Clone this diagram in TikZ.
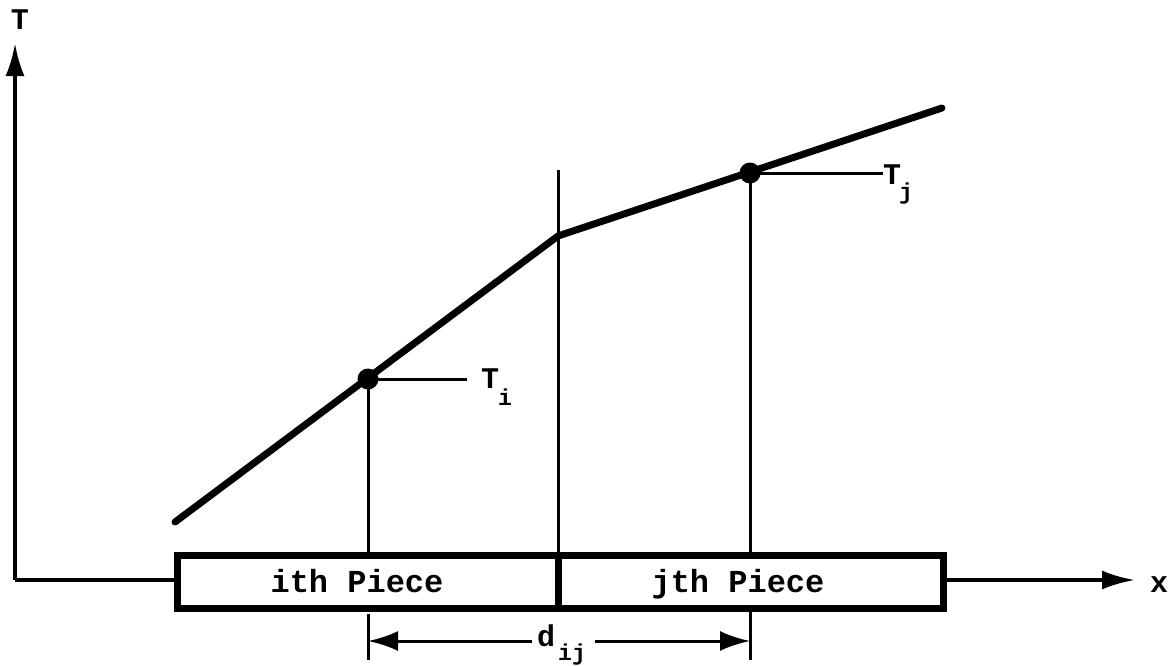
\documentclass[tikz,border=0pt]{standalone}
\usepackage{fontspec}
\setmainfont{Liberation Mono}
\usetikzlibrary{arrows.meta}
\begin{document}
\begin{tikzpicture}[x=1pt,y=-1pt,
  lbl/.style={font=\fontsize{30}{30}\selectfont\bfseries, inner sep=0pt, anchor=base west},
  sub/.style={font=\fontsize{23}{23}\selectfont\bfseries, inner sep=0pt, anchor=base west},
  piece/.style={draw, line width=7pt, minimum height=53pt, inner sep=0pt, outer sep=0pt},
  ptext/.style={font=\fontsize{32}{32}\selectfont\bfseries, inner sep=0pt, anchor=base},
  axisline/.style={line width=4pt},
  axis/.style={line width=4pt, -{Latex[length=33pt,width=19pt]}},
  thin/.style={line width=3pt},
  dim/.style={line width=3pt, -{Latex[length=30pt,width=20pt]}},
  curve/.style={line width=7pt, line cap=round, line join=round},
  dot/.style={circle, fill, inner sep=0pt, minimum size=21pt}]
\useasboundingbox (0,0) rectangle (1175,665);
% box
\node[piece, minimum width=381pt] (pi) at (367.5,581.5) {};
\node[piece, minimum width=385pt] (pj) at (750.5,581.5) {};
\node[ptext] (pit) at (357,592) {ith Piece};
\node[ptext] (pjt) at (738,592) {jth Piece};
% axes
\coordinate (O) at (15,580);
\coordinate (ytip) at (15,43);
\coordinate (xtip) at (1135,580);
\draw[axisline] (pi.west |- O) -- (O);
\draw[axis] (O) -- (ytip);
\draw[axis] (pj.east |- O) -- (xtip);
\node[lbl, anchor=base] (Tlab) at (20,29) {T};
\node[lbl] (xlab) at (1150,592) {x};
% curve
\coordinate (c0) at (175,522);
\coordinate (ck) at (558,236);
\coordinate (c1) at (942,108);
\coordinate (mtop) at (558,170);
\draw[thin] (mtop) -- (pi.north east);
\draw[curve] (c0) -- (ck) -- (c1);
\node[dot] (Ti) at (368,379) {};
\node[dot] (Tj) at (750,173) {};
% leaders and labels
\coordinate (TiE) at (467,379);
\coordinate (TjE) at (883,173);
\draw[thin] (Ti.center) -- (TiE);
\draw[thin] (Tj.center) -- (TjE);
\node[lbl] (TiL) at (481,388) {T};
\node[sub] (TiS) at (498,405) {i};
\node[lbl] (TjL) at (883,184) {T};
\node[sub] (TjS) at (899,199) {j};
% verticals
\draw[thin] (Ti.center) -- (Ti |- pi.north);
\draw[thin] (Tj.center) -- (Tj |- pj.north);
\coordinate (eL1) at (368,614);
\coordinate (eL2) at (368,660);
\coordinate (eR2) at (750,660);
\draw[thin] (eL1) -- (eL2);
\draw[thin] (Tj |- pj.south) -- (eR2);
% dimension
\coordinate (dL) at (368,641);
\coordinate (dR) at (750,641);
\coordinate (dgL) at (532,641);
\coordinate (dgR) at (595,641);
\draw[dim] (dgL) -- (dL);
\draw[dim] (dgR) -- (dR);
\node[lbl] (dlab) at (537,646) {d};
\node[sub] (dsub) at (558,660) {ij};
\end{tikzpicture}
\end{document}
